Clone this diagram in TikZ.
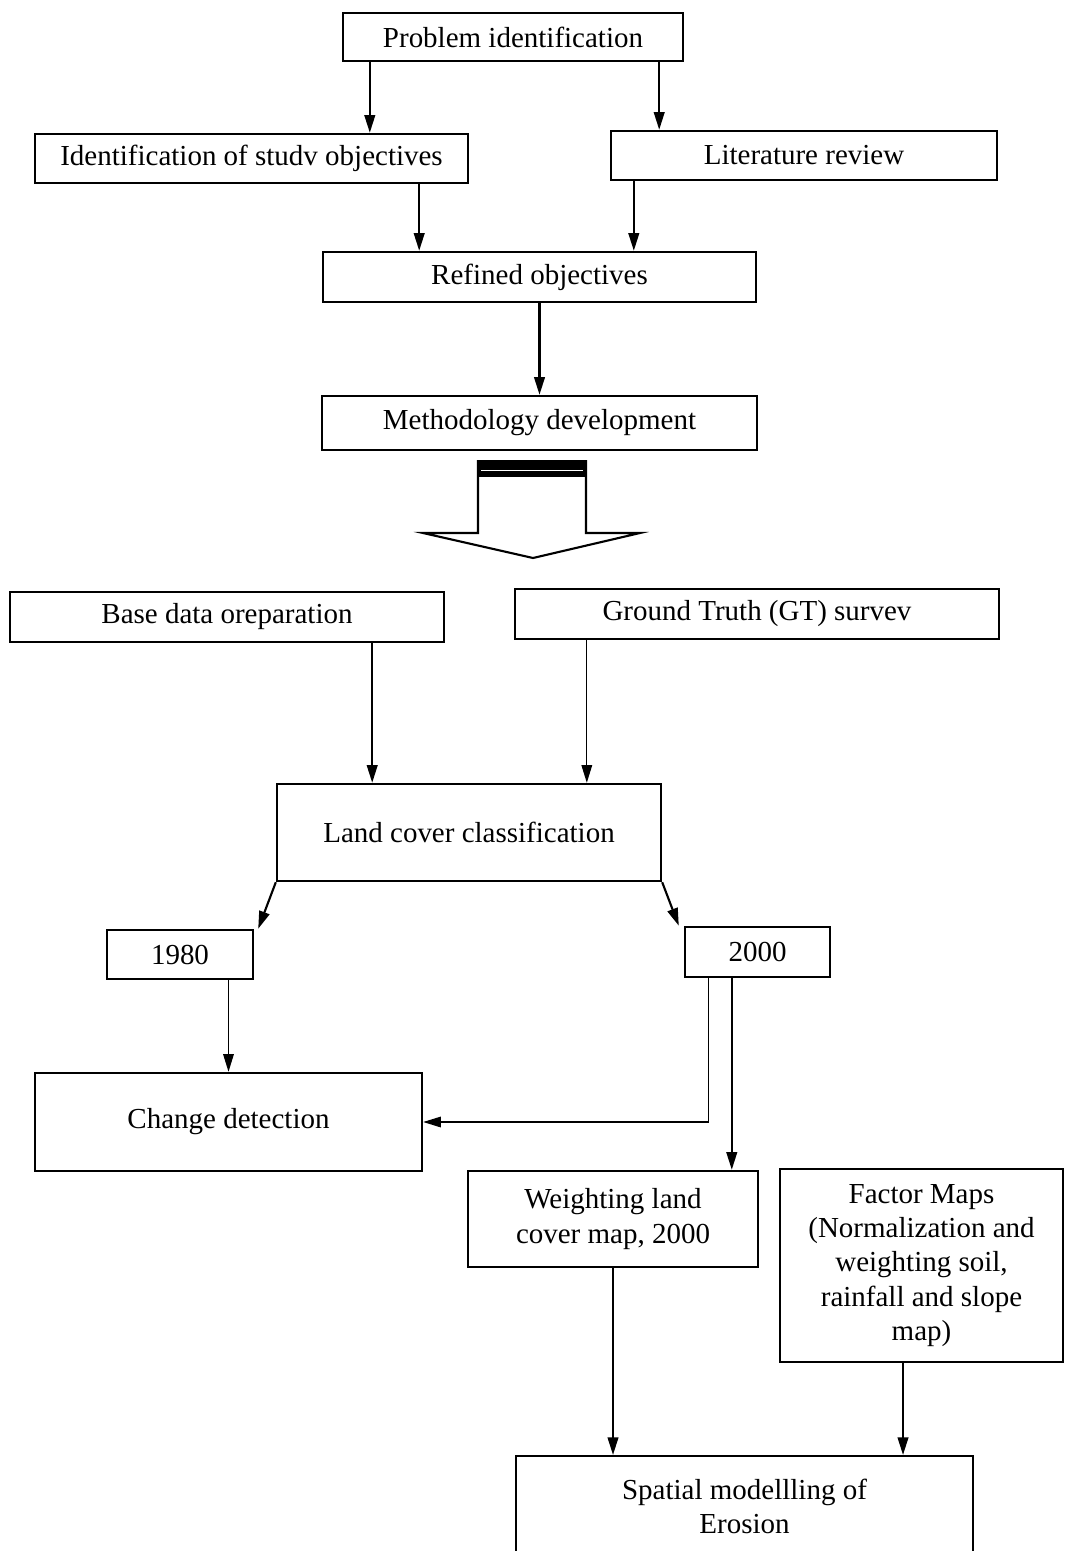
\documentclass[tikz,border=0pt]{standalone}
\usepackage{fontspec}
\setmainfont{Liberation Serif}
\usetikzlibrary{arrows.meta,positioning}

\begin{document}
\begin{tikzpicture}[
    x=0.02cm, y=-0.02cm,
    every node/.style={font=\fontsize{16.5}{19.5}\selectfont},
    block/.style={draw, line width=1.4pt, align=center, inner sep=2pt},
    arr/.style={-{Triangle[length=10pt,width=6pt]}, line width=1.2pt},
    thinarr/.style={-{Triangle[length=10pt,width=6pt]}, line width=0.7pt}
]
\useasboundingbox (0,0) rectangle (1065,1551);
\clip (0,0) rectangle (1065,1551);

\node[block, minimum width=6.8cm, minimum height=0.96cm] (prob) at (513,37) {Problem identification};
\node[block, minimum width=8.66cm, minimum height=0.98cm] (ident) at (251.5,158.5) {Identification of studv objectives};
\node[block, minimum width=7.72cm, minimum height=0.98cm] (lit) at (804,155.5) {Literature review};
\node[block, minimum width=8.66cm, minimum height=1.0cm] (refined) at (539.5,277) {Refined objectives};
\node[block, minimum width=8.7cm, minimum height=1.08cm] (method) at (539.5,423) {Methodology development};

\node[block, minimum width=8.68cm, minimum height=1.0cm] (base) at (227,617) {Base data oreparation};
\node[block, minimum width=9.68cm, minimum height=1.0cm] (gt) at (757,614) {Ground Truth (GT) survev};
\node[block, minimum width=7.68cm, minimum height=1.94cm] (land) at (469,832.5) {Land cover classification};
\node[block, minimum width=2.92cm, minimum height=0.98cm] (y1980) at (180,954.5) {1980};
\node[block, minimum width=2.9cm, minimum height=1.0cm] (y2000) at (757.5,952) {2000};
\node[block, minimum width=7.74cm, minimum height=1.96cm] (change) at (228.5,1122) {Change detection};
\node[block, minimum width=5.8cm, minimum height=1.92cm] (weight) at (613,1219) {Weighting land\\cover map, 2000};
\node[block, minimum width=5.66cm, minimum height=3.86cm] (factor) at (921.5,1265.5) {Factor Maps\\(Normalization and\\weighting soil,\\rainfall and slope\\map)};
\node[block, anchor=north, minimum width=9.14cm, minimum height=2.0cm] (spatial) at (744.5,1455) {Spatial modellling of\\Erosion};

\draw[arr] ([xshift=0.56cm]prob.south west) -- ([xshift=0.56cm]prob.south west |- ident.north);
\draw[arr] ([xshift=-0.5cm]prob.south east) -- ([xshift=-0.5cm]prob.south east |- lit.north);
\draw[arr] ([xshift=-1cm]ident.south east) -- ([xshift=-1cm]ident.south east |- refined.north);
\draw[arr] ([xshift=0.48cm]lit.south west) -- ([xshift=0.48cm]lit.south west |- refined.north);
\draw[arr] (refined.south) -- (method.north);

% hollow block arrow
\draw[line width=1.2pt] (478,460) -- (478,533) -- (423,533) -- (533,558) -- (640,533) -- (586,533) -- (586,460);
\fill (478,460) rectangle (586,477);
\draw[white, line width=0.8pt] (481,470.5) -- (583,470.5);

\draw[arr] ([xshift=-1.46cm]base.south east) -- ([xshift=-1.46cm]base.south east |- land.north);
\draw[thinarr] ([xshift=1.46cm]gt.south west) -- ([xshift=1.46cm]gt.south west |- land.north);
\draw[arr] (land.south west) -- ([xshift=0.08cm]y1980.north east);
\draw[arr] (land.south east) -- ([xshift=-0.1cm]y2000.north west);
\draw[thinarr] (y1980.south -| change.north) -- (change.north);
\draw[thinarr] ([xshift=0.5cm]y2000.south west) |- (change.east);
\draw[arr] ([xshift=0.96cm]y2000.south west) -- ([xshift=0.96cm]y2000.south west |- weight.north);
\draw[arr] (weight.south) -- (weight.south |- spatial.north);
\draw[arr] ([xshift=-0.37cm]factor.south) -- ([xshift=-0.37cm]factor.south |- spatial.north);
\end{tikzpicture}
\end{document}
